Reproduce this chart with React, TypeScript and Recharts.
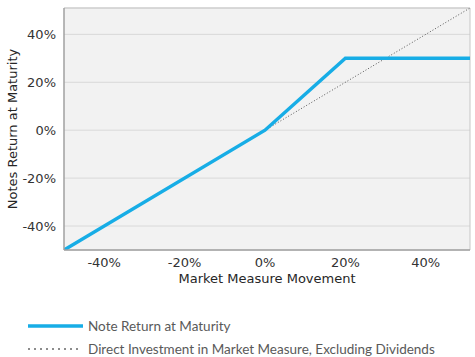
import React from "react";
import { CartesianGrid, Line, LineChart, ReferenceLine, XAxis, YAxis } from "recharts";

// market move (%) -> note return (%)
const noteMoves = [-50, 0, 20, 51];
const noteReturns = [-50, 0, 30, 30];

// direct investment is 1:1 with the market measure
const directMoves = [-50, 51];
const directReturns = [-50, 51];

const xTicks = [-40, -20, 0, 20, 40];
const yTicks = [-40, -20, 0, 20, 40];

const noteData = noteMoves.map((x, i) => ({ x, y: noteReturns[i] }));
const directData = directMoves.map((x, i) => ({ x, y: directReturns[i] }));

const pct = (v: number) => `${v}%`;
const tickStyle = { fontFamily: "DejaVu Sans", fontSize: 13, fill: "#333333" };
const BLUE = "#17ade6";

export default function App() {
  return (
    <div
      style={{
        position: "absolute",
        left: 0,
        top: 0,
        width: 475,
        height: 357,
        background: "#fff",
        fontFamily: "DejaVu Sans",
      }}
    >
      <LineChart width={475} height={290} margin={{ top: 8, right: 5, left: 0, bottom: 0 }}>
        <CartesianGrid vertical={false} stroke="#d9d9d9" fill="#f2f2f2" />
        <XAxis
          type="number"
          dataKey="x"
          domain={[-50, 51]}
          ticks={xTicks}
          tickFormatter={pct}
          tick={tickStyle}
          tickLine={false}
          axisLine={{ stroke: "#a0a0a0", strokeWidth: 1.5 }}
          height={40}
          allowDataOverflow
          label={{
            value: "Market Measure Movement",
            position: "insideBottom",
            offset: 7,
            style: { fontFamily: "DejaVu Sans", fontSize: 13, fill: "#262626" },
          }}
        />
        <YAxis
          type="number"
          dataKey="y"
          domain={[-50, 51]}
          ticks={yTicks}
          tickFormatter={pct}
          tick={tickStyle}
          tickLine={false}
          axisLine={{ stroke: "#a0a0a0", strokeWidth: 1.5 }}
          width={64}
          allowDataOverflow
          label={{
            value: "Notes Return at Maturity",
            angle: -90,
            position: "insideLeft",
            offset: 12,
            style: { fontFamily: "DejaVu Sans", fontSize: 13, fill: "#262626", textAnchor: "middle" },
          }}
        />
        <ReferenceLine y={51} stroke="#c6c6c6" />
        <ReferenceLine x={51} stroke="#c6c6c6" />
        <Line
          data={directData}
          dataKey="y"
          type="linear"
          stroke="#555"
          strokeWidth={1}
          strokeDasharray="1 2"
          dot={false}
          isAnimationActive={false}
        />
        <Line
          data={noteData}
          dataKey="y"
          type="linear"
          stroke={BLUE}
          strokeWidth={3.5}
          dot={false}
          isAnimationActive={false}
        />
      </LineChart>
      <div
        style={{
          position: "absolute",
          left: 28,
          top: 317,
          fontFamily: "Lato",
          fontSize: 13.5,
          lineHeight: "15px",
          color: "#595959",
        }}
      >
        <div style={{ display: "flex", alignItems: "center", height: 18 }}>
          <svg width={60} height={6}>
            <line x1={0} y1={3} x2={55} y2={3} stroke={BLUE} strokeWidth={3.5} />
          </svg>
          <span>Note Return at Maturity</span>
        </div>
        <div style={{ display: "flex", alignItems: "center", height: 18, marginTop: 5 }}>
          <svg width={60} height={6}>
            <line x1={0} y1={3} x2={53} y2={3} stroke="#8c8c8c" strokeWidth={2} strokeDasharray="2 4" />
          </svg>
          <span>Direct Investment in Market Measure, Excluding Dividends</span>
        </div>
      </div>
    </div>
  );
}
